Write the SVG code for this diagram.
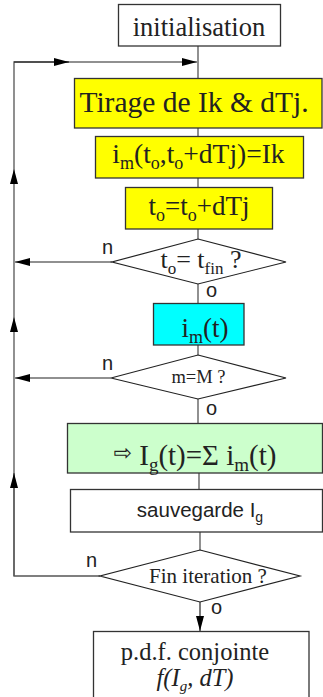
<svg xmlns="http://www.w3.org/2000/svg" width="323" height="697" viewBox="0 0 323 697">
<defs>
<marker id="ah" markerUnits="userSpaceOnUse" markerWidth="16" markerHeight="9" refX="15" refY="4" orient="auto">
<path d="M0,0 L15,4 L0,8 z" fill="#000"/>
</marker>
<style>
.box{stroke:#333;stroke-width:1.3}
.s{font-family:"Liberation Serif",serif;fill:#222}
.ss{font-family:"Liberation Sans",sans-serif;fill:#222}
.c{fill:none;stroke:#555;stroke-width:1.3}
.k{fill:none;stroke:#222;stroke-width:1.2}
.lb{font-family:"Liberation Sans",sans-serif;fill:#222;font-size:20px}
</style>
</defs>
<rect width="323" height="697" fill="#fff"/>
<g id="connectors">
<line class="c" x1="198" y1="46" x2="198" y2="78"/>
<line class="c" x1="198" y1="128" x2="198" y2="136"/>
<line class="c" x1="198" y1="178" x2="198" y2="187"/>
<line class="c" x1="198" y1="229" x2="198" y2="239"/>
<line class="c" x1="198" y1="284" x2="198" y2="303"/>
<line class="c" x1="198" y1="345" x2="198" y2="355"/>
<line class="c" x1="198" y1="399" x2="198" y2="423"/>
<line class="c" x1="199" y1="473" x2="199" y2="489"/>
<line class="c" x1="200" y1="532" x2="200" y2="550"/>
<line class="k" x1="200" y1="602" x2="200" y2="631" marker-end="url(#ah)"/>
<line class="k" x1="112" y1="262" x2="15" y2="262" marker-end="url(#ah)"/>
<line class="k" x1="111" y1="378" x2="15" y2="378" marker-end="url(#ah)"/>
<polyline class="c" points="100,576 14,576 14,473"/>
<line class="c" x1="14" y1="576" x2="14" y2="473" marker-end="url(#ah)"/>
<line class="c" x1="14" y1="473" x2="14" y2="317" marker-end="url(#ah)"/>
<line class="c" x1="14" y1="317" x2="14" y2="169" marker-end="url(#ah)"/>
<polyline class="c" points="14,169 14,62 69,62"/>
<line class="k" x1="14" y1="62" x2="69" y2="62" marker-end="url(#ah)"/>
<line class="k" x1="69" y1="62" x2="197" y2="62" marker-end="url(#ah)"/>
<text class="lb" x="102" y="254">n</text>
<text class="lb" x="206" y="297">o</text>
<text class="lb" x="102" y="370">n</text>
<text class="lb" x="206" y="415">o</text>
<text class="lb" x="86" y="567">n</text>
<text class="lb" x="211" y="614">o</text>
</g>
<g id="initialisation">
<rect class="box" x="118.5" y="4.5" width="162" height="41.5" fill="#fff"/>
<text class="s" x="199" y="36" font-size="26.5" text-anchor="middle">initialisation</text>
</g>
<g id="tirage">
<rect class="box" x="74.5" y="78.5" width="247.5" height="49.5" fill="#ffff00"/>
<text class="s" x="194" y="112" font-size="29.5" text-anchor="middle">Tirage de Ik &amp; dTj.</text>
</g>
<g id="im-init">
<rect class="box" x="95.5" y="136.5" width="208" height="41.5" fill="#ffff00"/>
<text class="s" x="198.5" y="163" font-size="27.5" text-anchor="middle">i<tspan font-size="18" dy="6">m</tspan><tspan dy="-6">(t</tspan><tspan font-size="18" dy="6">o</tspan><tspan dy="-6">,t</tspan><tspan font-size="18" dy="6">o</tspan><tspan dy="-6">+dTj)=Ik</tspan></text>
</g>
<g id="to-update">
<rect class="box" x="125.5" y="187.5" width="147" height="41.5" fill="#ffff00"/>
<text class="s" x="199" y="215" font-size="27" text-anchor="middle">t<tspan font-size="18" dy="6">o</tspan><tspan dy="-6">=t</tspan><tspan font-size="18" dy="6">o</tspan><tspan dy="-6">+dTj</tspan></text>
</g>
<g id="test-tfin">
<polygon class="k" points="198,239 286,262 198,284 112,262" fill="#fff"/>
<text class="s" x="201" y="268" font-size="26" text-anchor="middle">t<tspan font-size="17" dy="6">o</tspan><tspan dy="-6">= t</tspan><tspan font-size="17" dy="6">fin</tspan><tspan dy="-6"> ?</tspan></text>
</g>
<g id="im-t">
<rect class="box" x="153.5" y="303.5" width="90.5" height="41.5" fill="#00ffff"/>
<text class="s" x="205" y="337" font-size="27" text-anchor="middle">i<tspan font-size="18" dy="6">m</tspan><tspan dy="-6">(t)</tspan></text>
</g>
<g id="test-m">
<polygon class="k" points="198,355 286,378 198,399 111,378" fill="#fff"/>
<text class="s" x="198.5" y="383" font-size="18.5" text-anchor="middle">m=M ?</text>
</g>
<g id="somme">
<rect class="box" x="67.5" y="423.5" width="255" height="49.5" fill="#ccffcc"/>
<text class="s" x="195" y="465" font-size="29" text-anchor="middle"><tspan font-family="DejaVu Sans" font-size="22" dy="-5">⇨</tspan><tspan dy="5"> I</tspan><tspan font-size="19" dy="6">g</tspan><tspan dy="-6">(t)=Σ i</tspan><tspan font-size="19" dy="6">m</tspan><tspan dy="-6">(t)</tspan></text>
</g>
<g id="sauvegarde">
<rect class="box" x="70.5" y="489.5" width="252" height="42.5" fill="#fff"/>
<text class="ss" x="200" y="517" font-size="20.5" text-anchor="middle">sauvegarde I<tspan font-size="14" dy="5">g</tspan></text>
</g>
<g id="test-fin">
<polygon class="k" points="200,550 300,576 200,602 100,576" fill="#fff"/>
<text class="s" x="208" y="583" font-size="21" text-anchor="middle">Fin iteration ?</text>
</g>
<g id="pdf">
<rect class="box" x="93.5" y="631.5" width="215.5" height="70" fill="#fff"/>
<text class="s" x="195" y="660" font-size="24.5" text-anchor="middle">p.d.f. conjointe</text>
<text class="s" x="195" y="686" font-size="24.5" text-anchor="middle" font-style="italic">f(I<tspan font-size="15" dy="5">g</tspan><tspan dy="-5">, dT)</tspan></text>
</g>
</svg>
